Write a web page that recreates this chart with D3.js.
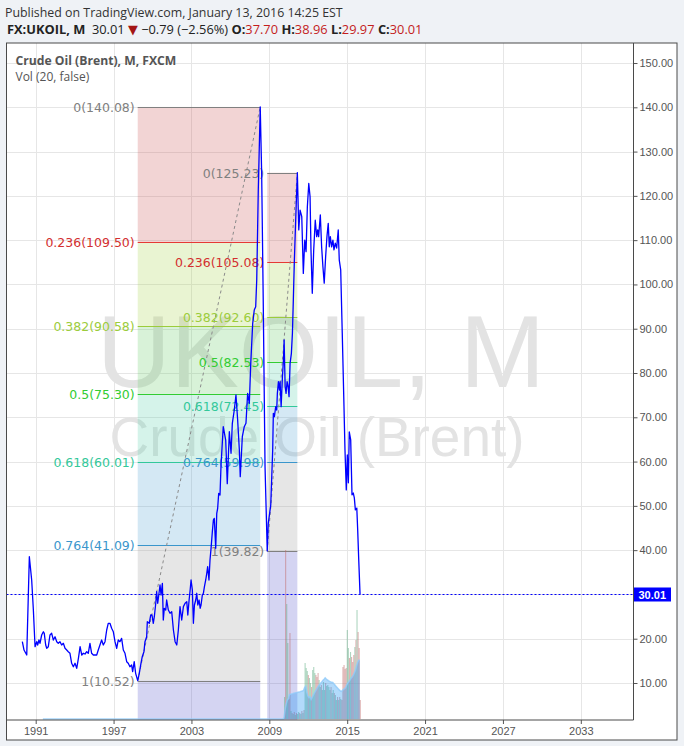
<!DOCTYPE html>
<html><head><meta charset="utf-8">
<script src="https://cdnjs.cloudflare.com/ajax/libs/d3/7.8.5/d3.min.js"></script>
<style>body{margin:0;background:#eff2f6;}svg{display:block}</style>
</head><body><svg id="c" width="684" height="746"></svg>
<script>
// ---------- data ----------
const priceDates = [1989.97,1990.10,1990.31,1990.51,1990.69,1990.82,1990.95,1991.08,1991.15,1991.25,1991.33,1991.46,1991.59,1991.66,1991.77,1991.85,1991.97,1992.10,1992.23,1992.36,1992.49,1992.62,1992.74,1992.87,1993.00,1993.13,1993.26,1993.39,1993.51,1993.64,1993.77,1993.90,1994.03,1994.16,1994.29,1994.42,1994.55,1994.67,1994.80,1994.93,1995.05,1995.18,1995.31,1995.44,1995.57,1995.70,1995.82,1995.95,1996.08,1996.21,1996.34,1996.47,1996.59,1996.72,1996.85,1996.98,1997.11,1997.24,1997.36,1997.49,1997.62,1997.75,1997.88,1998.01,1998.13,1998.26,1998.39,1998.47,1998.59,1998.70,1998.86,
1998.98,1999.11,1999.21,1999.34,1999.42,1999.55,1999.60,1999.75,1999.86,1999.96,2000.06,2000.14,2000.25,2000.32,2000.40,2000.50,2000.58,2000.66,2000.76,2000.83,2000.91,2001.02,2001.09,2001.22,2001.35,2001.48,2001.61,2001.74,2001.87,2001.99,2002.12,2002.25,2002.38,2002.51,2002.64,2002.72,2002.82,2002.90,2002.97,2003.07,2003.15,2003.23,2003.33,2003.41,2003.49,2003.59,2003.67,2003.74,2003.84,2003.92,2004.00,2004.10,2004.18,2004.25,2004.35,2004.43,2004.51,2004.61,2004.69,2004.76,2004.87,2004.95,2005.02,2005.10,2005.20,2005.28,2005.45,2005.64,2005.76,2005.92,2006.05,2006.15,2006.30,2006.43,2006.56,2006.69,2006.76,2006.92,2007.07,2007.20,2007.33,2007.46,2007.57,2007.72,2007.84,2007.95,2008.03,2008.15,2008.30,2008.41,2008.53,2008.67,2008.84,
2008.92,2009.11,2009.26,2009.31,2009.39,2009.49,2009.57,2009.62,2009.70,2009.78,2009.83,2009.91,2010.01,2010.09,2010.14,2010.22,2010.29,2010.37,2010.45,2010.52,2010.60,2010.70,2010.78,2010.85,2010.93,2011.04,2011.16,2011.27,2011.37,2011.50,2011.62,2011.73,2011.83,2011.93,2012.04,2012.14,2012.21,2012.31,2012.42,2012.54,2012.65,2012.73,2012.80,2012.93,2013.03,2013.13,2013.23,2013.34,2013.44,2013.54,2013.62,2013.70,2013.80,2013.90,2013.98,2014.08,2014.19,2014.31,2014.39,2014.50,2014.62,2014.75,2014.83,2014.93,2015.01,2015.09,2015.16,2015.27,2015.37,2015.47,2015.55,2015.63,2015.74,2015.81,2015.89,2015.99];
const priceValues = [19.33,17.45,16.32,38.52,33.26,26.48,18.20,19.33,18.58,19.71,18.96,20.84,21.58,21.22,18.58,17.84,18.20,20.84,21.22,19.71,20.45,19.33,18.96,19.33,18.58,18.96,17.84,17.45,17.07,16.71,14.45,13.68,14.45,13.32,15.58,18.20,16.32,16.71,16.55,17.07,16.71,18.96,16.71,16.32,16.32,16.32,17.45,18.58,19.71,18.58,19.33,21.97,23.48,23.48,22.35,21.58,19.33,17.84,19.71,19.33,20.09,17.45,16.71,14.81,14.45,13.68,14.06,12.55,14.81,12.19,10.52,
12.19,14.45,15.94,17.07,19.33,20.45,23.84,23.48,25.35,25.35,23.48,24.97,28.00,30.62,28.00,30.26,32.13,29.87,32.51,24.23,26.87,26.48,28.74,26.48,25.74,26.10,21.97,19.33,18.58,21.97,27.24,24.23,27.24,28.00,28.36,25.35,28.74,31.00,33.26,31.00,23.48,27.61,28.74,30.26,27.61,28.74,26.87,27.61,29.87,30.26,31.74,33.26,34.77,36.26,33.26,37.77,40.41,44.16,46.81,47.19,40.41,48.32,49.45,52.83,52.45,59.22,67.87,64.87,55.00,66.74,61.87,68.64,71.64,75.03,69.39,62.61,56.58,65.61,67.87,68.64,75.41,73.16,82.19,91.22,94.22,94.97,101.0,121.3,140.08,125.2,96.5,58.84,39.82,
46.06,50.19,62.61,70.90,70.13,72.39,71.64,75.41,78.03,76.16,78.03,72.39,79.16,82.93,87.45,76.90,75.41,78.03,76.90,74.65,82.19,84.45,88.96,96.49,105.5,115.3,125.23,112.3,116.8,115.3,102.5,110.0,107.4,117.5,122.8,119.8,107.8,98.0,107.8,114.5,110.8,112.3,110.8,115.7,108.5,104.0,100.3,106.3,110.8,113.8,108.5,110.8,108.5,110.0,107.8,109.3,108.2,112.3,105.5,103.3,89.0,72.8,62.6,53.6,61.5,55.2,66.7,64.9,52.5,52.9,51.8,49.1,49.5,44.5,37.8,30.01];

const yTicks = [10,20,30,40,50,60,70,80,90,100,110,120,130,140,150];
const xTicks = [1991,1997,2003,2009,2015,2021,2027,2033];

const fibRatios = [0, 0.236, 0.382, 0.5, 0.618, 0.764, 1];
const fib1Values = [140.08, 109.50, 90.58, 75.30, 60.01, 41.09, 10.52];
const fib1Dates = [1998.86, 2008.30];
const fib2Values = [125.23, 105.08, 92.60, 82.53, 72.45, 59.98, 39.82];
const fib2Dates = [2008.84, 2011.16];

const volumeStart = 2010.17;   // first month with volume (monthly from here)
const volumeValues = [220,1690,1150,760,200,860,80,60,50,70,40,60,50,70,60,50,80,60,90,560,510,480,440,410,360,320,490,520,460,440,420,460,390,320,340,290,370,290,360,330,340,320,290,320,260,290,260,240,190,220,190,220,200,190,520,540,500,510,890,710,610,670,620,570,640,720,790,1090,870,710,190];
const volumeUp = [1,0,1,1,0,0,1,0,1,0,1,0,1,1,0,1,0,1,0,1,1,1,0,1,1,0,1,1,1,0,0,0,1,1,0,1,1,1,0,1,1,1,1,0,1,1,0,1,1,0,1,0,1,0,0,0,0,0,1,1,0,1,0,0,0,1,0,1,0,0,0];
const volumeMaLength = 20;
const lastPrice = 30.01;

// ---------- layout ----------
const svg = d3.select('#c');
const L = 6.5, R = 633.5, T = 43, B = 720, OR = 677, OB = 740;
const x = d3.scaleLinear().domain([1988.75, 2037.06]).range([L, R]);
const y = d3.scaleLinear().domain([1.645, 154.52]).range([B, T]);
const vY = d3.scaleLinear().domain([0, 1700]).range([719, 549]);

svg.append('rect').attr('width',684).attr('height',746).attr('fill','#eff2f6');
svg.append('rect').attr('x',L).attr('y',T).attr('width',OR-L).attr('height',OB-T).attr('fill','#fff');

svg.append('defs').append('clipPath').attr('id','plot')
  .append('rect').attr('x',L).attr('y',T).attr('width',R-L).attr('height',B-T);
const plot = svg.append('g').attr('clip-path','url(#plot)');

// grid
plot.append('g').selectAll('line').data(yTicks).join('line')
  .attr('x1',L).attr('x2',R).attr('y1',d=>Math.round(y(d))+0.5).attr('y2',d=>Math.round(y(d))+0.5)
  .attr('stroke','#e6e6e6');
plot.append('g').selectAll('line').data(xTicks).join('line')
  .attr('y1',T).attr('y2',B).attr('x1',d=>Math.round(x(d))+0.5).attr('x2',d=>Math.round(x(d))+0.5)
  .attr('stroke','#e6e6e6');

// watermark
function fit(sel, w){ const n = sel.node(); const cur = n.getComputedTextLength(); const fs = parseFloat(sel.attr('font-size')); sel.attr('font-size', fs*w/cur); return sel; }
fit(plot.append('text').attr('x',321).attr('y',387).attr('text-anchor','middle')
  .attr('font-family','Liberation Sans, Arial, sans-serif').attr('font-size',100).attr('fill','#e3e3e3')
  .text('UKOIL, M'), 448);
fit(plot.append('text').attr('x',317).attr('y',456).attr('text-anchor','middle')
  .attr('font-family','Liberation Sans, Arial, sans-serif').attr('font-size',55).attr('fill','#e3e3e3')
  .text('Crude Oil (Brent)'), 415);

// fibs
const bandColors = ['rgb(203,83,83)','rgb(167,211,75)','rgb(99,203,99)','rgb(87,207,171)','rgb(83,163,211)','rgb(155,155,155)'];
const lineColors = ['#808080','#e53935','#9ccc3c','#33cc33','#33c89a','#3a96cc','#808080'];
const labelColors = ['#808080','#d32f2f','#9ccc3c','#33cc33','#33c89a','#3a96cc','#808080'];
function drawFib(vals, dates){
  const x0 = x(dates[0]), x1 = x(dates[1]);
  const g = plot.append('g');
  for (let i=0;i<vals.length-1;i++){
    g.append('rect').attr('x',x0).attr('width',x1-x0).attr('y',y(vals[i])).attr('height',y(vals[i+1])-y(vals[i]))
      .attr('fill',bandColors[i]).attr('fill-opacity',0.25);
  }
  g.append('rect').attr('x',x0).attr('width',x1-x0).attr('y',y(vals[vals.length-1])).attr('height',B-y(vals[vals.length-1]))
    .attr('fill','rgb(83,83,203)').attr('fill-opacity',0.25);
  return {g,x0,x1};
}
function drawFibLines(vals, dates, f){
  const {g,x0,x1} = f;
  vals.forEach((v,i)=>{
    const yy = Math.round(y(v))+0.5;
    g.append('line').attr('x1',x0).attr('x2',x1).attr('y1',yy).attr('y2',yy).attr('stroke',lineColors[i]).attr('stroke-width',1);
    g.append('text').attr('x',x0-3).attr('y',yy+4.5).attr('text-anchor','end')
      .attr('font-family','DejaVu Sans, Verdana, sans-serif').attr('font-size',12.5).attr('fill',labelColors[i])
      .text(fibRatios[i]+'('+v.toFixed(2)+')');
  });
  g.append('line').attr('x1',x(dates[0])).attr('y1',y(vals[vals.length-1])).attr('x2',x(dates[1])).attr('y2',y(vals[0]))
    .attr('stroke','#8a8a8a').attr('stroke-dasharray','3,3');
}
const f1 = drawFib(fib1Values, fib1Dates);
const f2 = drawFib(fib2Values, fib2Dates);
drawFibLines(fib1Values, fib1Dates, f1);
drawFibLines(fib2Values, fib2Dates, f2);

// volume
const monthsFrom = d3.range(Math.round((priceDates[priceDates.length-1]-priceDates[0])*12)+1).map(m=>priceDates[0]+m/12);
const offset = Math.round((volumeStart-priceDates[0])*12);
const fullVol = monthsFrom.map((d,m)=> (m>=offset && m-offset<volumeValues.length) ? volumeValues[m-offset] : 0);
const ma = [];
for (let m=volumeMaLength-1;m<fullVol.length;m++){
  ma.push({d:monthsFrom[m], v:d3.mean(fullVol.slice(m-volumeMaLength+1,m+1))});
}
const vol = volumeValues.map((v,k)=>({d:volumeStart+k/12, v, up:volumeUp[k]}));
plot.append('g').selectAll('rect').data(vol).join('rect')
  .attr('x',d=>x(d.d)-0.5).attr('width',1.1).attr('y',d=>vY(d.v)).attr('height',d=>vY(0)-vY(d.v))
  .attr('fill',d=>d.up?'#5fae84':'#c06a6a').attr('fill-opacity',0.5);
plot.append('path').datum(ma)
  .attr('d',d3.area().x(d=>x(d.d)).y0(vY(0)).y1(d=>vY(d.v)))
  .attr('fill','#2196f3').attr('fill-opacity',0.35);
plot.append('path').datum(ma)
  .attr('d',d3.line().x(d=>x(d.d)).y(d=>vY(d.v)))
  .attr('fill','none').attr('stroke','#90caf9').attr('stroke-width',1.5).attr('stroke-opacity',0.8);

// price line
const price = priceDates.map((d,i)=>({d, v:priceValues[i]}));
plot.append('path').datum(price)
  .attr('d',d3.line().x(d=>x(d.d)).y(d=>y(d.v)))
  .attr('fill','none').attr('stroke','#0000ff').attr('stroke-width',1.3).attr('stroke-linejoin','round');

// last price line
const ly = Math.round(y(lastPrice))+0.5;
svg.append('line').attr('x1',L).attr('x2',R).attr('y1',ly).attr('y2',ly)
  .attr('stroke','#0000ff').attr('stroke-dasharray','2,2');

// axes
const ax = svg.append('g').attr('transform',`translate(${R},0)`)
  .call(d3.axisRight(y).tickValues(yTicks).tickSize(4).tickPadding(2).tickFormat(d=>d.toFixed(2)));
ax.select('.domain').remove();
ax.selectAll('line').attr('stroke','#555');
ax.selectAll('text').attr('font-family','Liberation Sans, Arial, sans-serif').attr('font-size',11).attr('fill','#555');
const bx = svg.append('g').attr('transform',`translate(0,${B})`)
  .call(d3.axisBottom(x).tickValues(xTicks).tickSize(4).tickPadding(3).tickFormat(d3.format('d')));
bx.select('.domain').remove();
bx.selectAll('line').attr('stroke','#555');
bx.selectAll('text').attr('font-family','Liberation Sans, Arial, sans-serif').attr('font-size',11).attr('fill','#555');

// price label
svg.append('rect').attr('x',R).attr('y',ly-7).attr('width',37.5).attr('height',14).attr('fill','#0000ff');
svg.append('text').attr('x',R+5).attr('y',ly+4).attr('font-family','Liberation Sans, Arial, sans-serif')
  .attr('font-size',11).attr('font-weight','bold').attr('fill','#fff').text(lastPrice.toFixed(2));

// frame
svg.append('line').attr('x1',R).attr('x2',R).attr('y1',T).attr('y2',B).attr('stroke','#4a4a4a');
svg.append('line').attr('x1',L).attr('x2',R).attr('y1',B).attr('y2',B).attr('stroke','#4a4a4a');
svg.append('rect').attr('x',L).attr('y',T).attr('width',OR-L).attr('height',OB-T).attr('fill','none').attr('stroke','#4a4a4a');

// header
const HF = 'Open Sans, Noto Sans, sans-serif';
fit(svg.append('text').attr('x',5).attr('y',17).attr('font-family',HF).attr('font-size',13).attr('fill','#333')
  .text('Published on TradingView.com, January 13, 2016 14:25 EST'), 338);
const h2 = svg.append('text').attr('x',7).attr('y',34).attr('font-family',HF).attr('font-size',13).attr('fill','#222');
h2.append('tspan').attr('font-weight','bold').text('FX:UKOIL, M');
h2.append('tspan').text('\u00a0 30.01 ');
h2.append('tspan').attr('fill','#a31515').attr('font-family','DejaVu Sans, sans-serif').text('\u25BC');
h2.append('tspan').text(' \u22120.79 (\u22122.56%) ');
[['O:','37.70'],['H:','38.96'],['L:','29.97'],['C:','30.01']].forEach(([k,v],i)=>{
  h2.append('tspan').attr('font-weight','bold').text((i?' ':'')+k);
  h2.append('tspan').attr('fill','#c41d1d').text(v);
});
fit(h2, 416);

// legend
fit(svg.append('text').attr('x',15.5).attr('y',64.5).attr('font-family',HF).attr('font-size',12.5).attr('font-weight','bold').attr('fill','#555')
  .text('Crude Oil (Brent), M, FXCM'), 161);
svg.append('text').attr('x',15.5).attr('y',80.5).attr('font-family',HF).attr('font-size',12).attr('fill','#555')
  .text('Vol (20, false)');
</script></body></html>
